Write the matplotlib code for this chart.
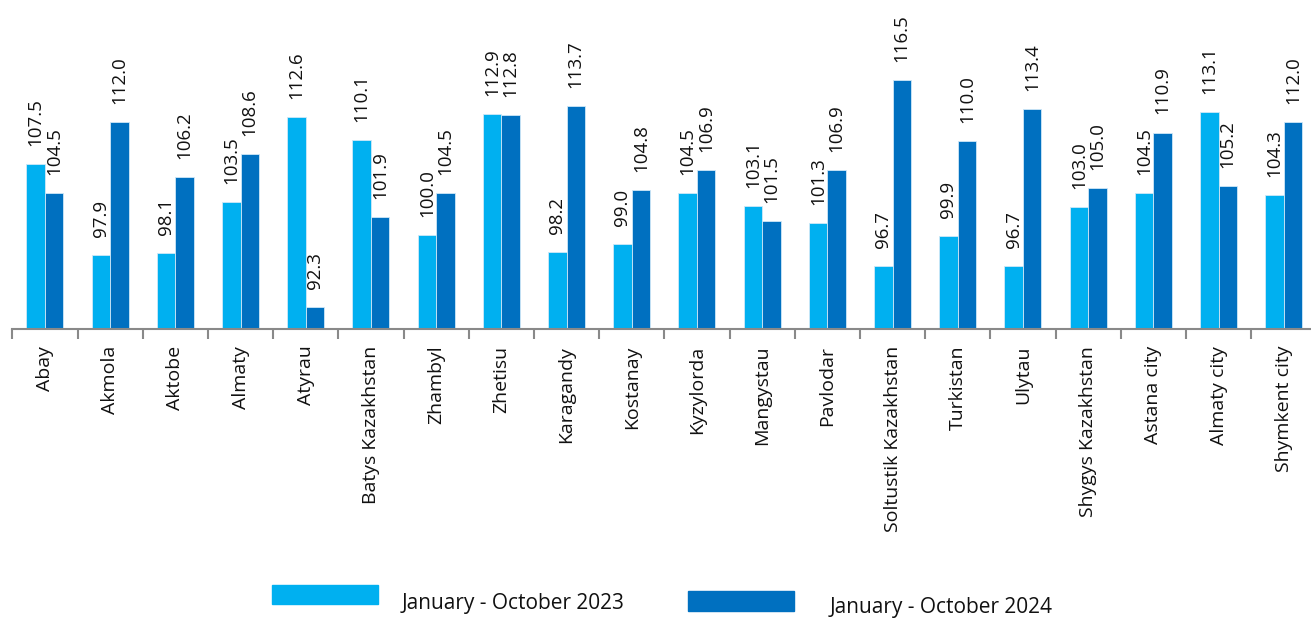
import matplotlib
matplotlib.use("Agg")
import matplotlib.pyplot as plt
from matplotlib.patches import Rectangle
import numpy as np

plt.rcParams['font.family'] = ['Open Sans', 'DejaVu Sans']

regions = ["Abay", "Akmola", "Aktobe", "Almaty", "Atyrau", "Batys Kazakhstan",
           "Zhambyl", "Zhetisu", "Karagandy", "Kostanay", "Kyzylorda", "Mangystau",
           "Pavlodar", "Soltustik Kazakhstan", "Turkistan", "Ulytau",
           "Shygys Kazakhstan", "Astana city", "Almaty city", "Shymkent city"]
values_2023 = [107.5, 97.9, 98.1, 103.5, 112.6, 110.1, 100.0, 112.9, 98.2, 99.0,
               104.5, 103.1, 101.3, 96.7, 99.9, 96.7, 103.0, 104.5, 113.1, 104.3]
values_2024 = [104.5, 112.0, 106.2, 108.6, 92.3, 101.9, 104.5, 112.8, 113.7, 104.8,
               106.9, 101.5, 106.9, 116.5, 110.0, 113.4, 105.0, 110.9, 105.2, 112.0]
series_names = ["January - October 2023", "January - October 2024"]
colors = ["#00B0F0", "#0070C0"]


def draw_chart():
    fig = plt.figure(figsize=(13.11, 6.19), dpi=100)
    ax = fig.add_axes([12.3 / 1311, 290 / 619, 1304 / 1311, 329 / 619])

    x = np.arange(len(regions))
    w = 0.285
    for i, vals in enumerate([values_2023, values_2024]):
        pos = x + (i - 0.5) * w
        ax.bar(pos, np.array(vals) - 90, bottom=90, width=w, color=colors[i],
               edgecolor="#CFE8F7", linewidth=0.6)
        for xi, v in zip(pos, vals):
            ax.annotate(f"{v:.1f}", (xi, v), xytext=(0, 13), textcoords="offset points",
                        ha="center", va="bottom", rotation=90, fontsize=13.5, color="#111111")

    ax.set_xlim(-0.5, len(regions) - 0.5)
    ax.set_ylim(90, 125)
    ax.set_yticks([])
    for s in ["top", "right", "left"]:
        ax.spines[s].set_visible(False)
    ax.spines["bottom"].set_color("#898989")
    ax.spines["bottom"].set_linewidth(1.5)

    ax.set_xticks(x)
    ax.set_xticklabels(regions, rotation=90, fontsize=14, color="#111111")
    ax.tick_params(axis="x", which="major", length=0, pad=12)
    ax.set_xticks(np.arange(len(regions) + 1) - 0.5, minor=True)
    ax.tick_params(axis="x", which="minor", length=7, width=1.5, color="#898989")

    # legend, drawn by hand as in the original
    fig.add_artist(Rectangle((272 / 1311, 1 - 604 / 619), 106 / 1311, 19 / 619,
                             transform=fig.transFigure, color=colors[0]))
    fig.text(402 / 1311, 1 - 603 / 619, series_names[0], fontsize=15, va="center", color="#111111")
    fig.add_artist(Rectangle((688 / 1311, 1 - 611 / 619), 106 / 1311, 20 / 619,
                             transform=fig.transFigure, color=colors[1]))
    fig.text(830 / 1311, 1 - 608 / 619, series_names[1], fontsize=15, va="center", color="#111111")

    fig.savefig("out.png", dpi=100)


def main():
    draw_chart()


if __name__ == "__main__":
    main()
